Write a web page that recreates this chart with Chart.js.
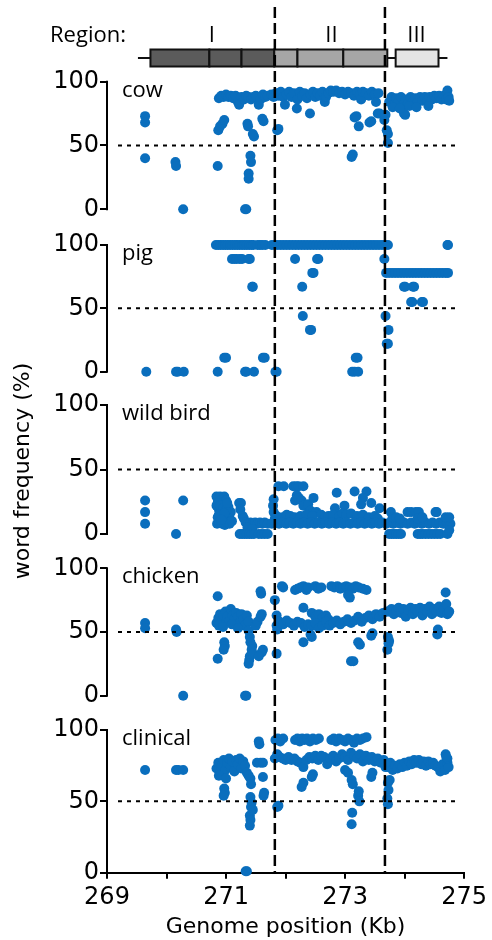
<!DOCTYPE html>
<html>
<head>
<meta charset="utf-8">
<script src="https://cdn.jsdelivr.net/npm/chart.js@4.4.1/dist/chart.umd.min.js"></script>
<style>
  html, body { margin: 0; padding: 0; background: #fff; }
  canvas { display: block; }
</style>
</head>
<body>
<canvas id="chart" width="492" height="940"></canvas>
<script>
// axes
const xMin = 269, xMax = 275;
const yTicks = [0, 50, 100];
const panelNames = ['cow', 'pig', 'wild bird', 'chicken', 'clinical'];

// region boundaries (Kb) and the region bar segments
const regionBounds = [271.82, 273.67];
const regionSegments = [[269.73, 270.72], [270.72, 271.26], [271.26, 271.81], [271.81, 272.2], [272.2, 272.97], [272.97, 273.71], [273.85, 274.57]];
const regionShade = [0, 0, 0, 1, 1, 1, 2];
const regionLabels = ['I', 'II', 'III'];
const regionLabelPos = [270.76, 272.77, 274.2];
const regionSpan = [269.52, 274.72];

// word frequency (%) by genome position (Kb)
const cow = [
  [269.64,73],[269.64,68],[269.64,40],[270.15,37],[270.16,34],[270.28,0],
  [270.86,34],[270.87,62],[270.9,65],[270.94,67],[270.97,70],
  [270.88,87],[270.92,89],[270.96,88],[271.0,90],[271.04,88],[271.08,89],[271.12,87],[271.16,89],[271.2,84],[271.22,82],
  [271.26,88],[271.3,86],[271.34,89],[271.38,88],[271.42,86],[271.46,88],[271.5,89],[271.55,82],[271.58,86],[271.62,90],[271.66,88],[271.7,89],
  [271.36,67],[271.37,65],[271.47,57],[271.45,59],
  [271.41,42],[271.42,37],[271.38,28],[271.38,24],[271.32,0],[271.34,0],
  [271.61,71],[271.63,69],[271.86,62],[271.88,63],
  [271.76,90],[271.8,88],[271.84,91],[271.88,89],[271.92,92],[271.96,88],[271.99,82],[272.02,90],[272.06,92],[272.1,88],
  [272.14,91],[272.19,79],[272.2,86],[272.24,92],[272.28,89],[272.32,91],[272.36,87],[272.41,75],[272.42,90],[272.46,92],
  [272.5,88],[272.54,91],[272.58,89],[272.62,92],[272.66,84],[272.68,88],[272.72,91],[272.76,93],[272.8,92],[272.85,93],
  [272.9,91],[272.95,92],[273.0,90],[273.05,92],[273.1,91],[273.15,89],[273.2,92],[273.25,90],[273.27,86],[273.3,92],
  [273.35,91],[273.4,89],[273.45,92],[273.5,90],[273.52,84],[273.56,91],
  [273.11,41],[273.13,43],[273.16,72],[273.19,73],[273.23,65],[273.41,68],[273.44,69],[273.55,75],[273.58,75],
  [273.66,70],[273.68,74],[273.7,62],[273.72,59],[273.72,52],
  [273.74,84],[273.78,88],[273.82,82],[273.86,87],[273.9,84],[273.94,88],[273.98,82],[273.99,75],[274.01,74],[274.02,86],
  [274.06,83],[274.1,88],[274.14,84],[274.18,87],[274.22,84],[274.26,88],[274.3,85],[274.34,88],[274.38,85],[274.42,88],
  [274.46,86],[274.5,89],[274.54,87],[274.58,89],[274.62,86],[274.66,89],[274.7,86],[274.72,93],[274.74,88],[274.75,85],
  [273.8,80],[273.92,79],[274.08,81],[274.2,80],[274.4,81]
];

const pig = [
  [269.66,0],[270.16,0],[270.19,0],[270.29,0],[270.86,0],[271.32,0],[271.34,0],[271.47,0],[271.83,0],[271.85,0],
  [273.12,0],[273.16,0],[273.22,0],
  [270.97,11],[271.0,11],[271.62,11],[271.65,11],[273.18,11],[273.21,11],
  [270.83,100],[270.87,100],[270.91,100],[270.95,100],[270.99,100],[271.03,100],[271.07,100],[271.11,100],[271.15,100],
  [271.19,100],[271.23,100],[271.27,100],[271.31,100],[271.35,100],[271.39,100],[271.43,100],[271.46,100],
  [271.53,100],[271.57,100],[271.61,100],[271.66,100],
  [271.77,100],[271.82,100],[271.87,100],[271.92,100],[271.97,100],[272.02,100],[272.07,100],[272.12,100],[272.17,100],
  [272.22,100],[272.27,100],[272.32,100],[272.37,100],[272.42,100],[272.47,100],[272.52,100],[272.57,100],[272.62,100],
  [272.67,100],[272.72,100],[272.77,100],[272.82,100],[272.87,100],[272.92,100],[272.97,100],[273.02,100],[273.07,100],
  [273.12,100],[273.17,100],[273.22,100],[273.27,100],[273.32,100],[273.37,100],[273.42,100],[273.47,100],[273.52,100],
  [273.57,100],[273.62,100],[273.67,100],[273.72,100],
  [271.1,89],[271.14,89],[271.18,89],[271.23,89],[271.27,89],[271.38,89],[271.4,89],[272.16,89],[272.53,89],[272.55,89],[273.66,89],
  [271.44,67],[271.45,67],[272.28,67],[272.45,78],[272.47,78],[272.29,44],[272.41,33],[272.43,33],
  [273.69,78],[273.74,78],[273.79,78],[273.84,78],[273.89,78],[273.94,78],[273.99,78],[274.04,78],[274.09,78],[274.14,78],
  [274.19,78],[274.24,78],[274.29,78],[274.34,78],[274.39,78],[274.44,78],[274.49,78],[274.54,78],[274.59,78],[274.64,78],
  [274.69,78],[274.73,78],
  [273.99,67],[274.01,67],[274.14,67],[274.16,67],[274.11,55],[274.13,55],[274.29,55],[274.31,55],
  [273.68,44],[273.73,33],[273.7,22],[273.72,22],[274.72,100],[274.73,100]
];

const wildBird = [
  [269.64,26],[269.64,17],[269.64,8],[270.16,0],[270.28,26],
  [270.84,29],[270.87,26],[270.9,29],[270.93,27],[270.97,29],[271.0,26],[270.84,22],[270.88,19],[270.92,17],[270.86,13],
  [270.9,12],[270.95,14],[270.99,11],[271.03,13],[271.06,12],[270.85,8],[270.89,9],[270.93,8],[270.98,7],[271.02,9],
  [271.06,8],[271.1,10],[271.08,17],[271.04,21],
  [270.86,24],[270.9,22],[270.95,20],[271.0,18],[270.88,15],[270.97,16],[271.02,24],[270.92,11],
  [271.22,24],[271.25,24],[271.24,19],[271.28,14],[271.3,12],
  [271.33,9],[271.37,8],[271.41,9],[271.45,8],[271.49,9],[271.53,8],[271.57,9],[271.61,8],[271.65,9],[271.7,8],[271.36,5],[271.44,4],
  [271.23,0],[271.27,0],[271.31,0],[271.35,0],[271.39,0],[271.43,0],[271.47,0],[271.55,0],[271.6,0],[271.65,0],[271.7,0],
  [271.8,27],[271.79,22],[271.8,17],[271.82,12],
  [271.88,37],[271.97,37],[272.13,37],[272.18,37],[272.22,37],[272.3,37],
  [272.19,30],[272.16,26],[272.22,28],[272.27,26],[272.3,22],[272.38,23],[272.47,28],[272.42,18],[272.52,17],
  [272.86,32],[272.83,20],[272.99,22],[273.16,33],[273.36,33],[273.3,28],[273.27,23],[273.44,24],[273.58,20],
  [271.85,14],[271.95,13],[272.02,15],[272.08,14],[272.15,13],[272.25,14],[272.35,15],[272.45,14],[272.6,15],[272.66,13],
  [272.72,14],[272.8,15],[272.9,14],[272.96,16],[273.02,15],[273.1,16],[273.2,14],[273.3,15],[273.4,13],[273.5,14],[273.55,12],
  [271.77,8],[271.83,9],[271.89,8],[271.95,9],[272.01,8],[272.07,9],[272.13,8],[272.19,9],[272.25,8],[272.31,9],
  [272.37,8],[272.43,9],[272.49,8],[272.55,9],[272.61,8],[272.67,9],[272.73,8],[272.79,9],[272.85,8],[272.91,9],
  [272.97,8],[273.03,9],[273.09,8],[273.15,9],[273.21,8],[273.27,9],[273.33,8],[273.39,9],[273.45,8],[273.51,9],
  [273.57,8],[273.63,9],[273.69,8],[273.75,9],[273.81,8],[273.87,9],[273.93,8],[273.99,9],[274.05,8],[274.11,9],
  [274.17,8],[274.23,9],[274.29,8],[274.35,9],[274.41,8],[274.47,9],[274.53,8],[274.59,9],[274.65,8],[274.71,9],[274.77,8],
  [273.77,17],[274.05,17],[274.11,17],[274.19,17],[274.24,17],[274.52,17],[274.54,17],
  [273.8,13],[273.86,13],[273.92,12],[274.22,12],[274.3,13],[274.69,13],[274.75,13],
  [273.74,0],[273.78,0],[273.82,0],[273.86,0],[273.9,0],[273.94,0],[274.22,0],[274.26,0],[274.3,0],[274.35,0],
  [274.4,0],[274.45,0],[274.5,0],[274.55,0],[274.6,0],[274.72,0],[274.75,3]
];

const chicken = [
  [269.64,57],[269.64,53],[270.16,52],[270.17,50],[270.28,0],
  [270.86,78],[270.86,29],[271.32,0],[271.34,0],
  [270.84,57],[270.87,61],[270.9,64],[270.93,59],[270.96,63],[270.99,66],[271.02,62],[271.05,58],[271.08,68],[271.11,63],
  [271.14,60],[271.17,65],[271.2,62],[271.23,57],[271.26,64],[271.29,60],[271.32,55],[271.35,63],[271.38,58],
  [270.88,55],[270.95,54],[271.1,56],[271.2,53],
  [270.97,42],[270.98,39],[270.96,36],
  [271.38,51],[271.4,46],[271.41,42],[271.44,39],[271.43,36],[271.4,31],[271.39,28],[271.38,25],[271.45,33],
  [271.5,55],[271.53,58],[271.58,62],[271.6,64],[271.62,36],[271.6,34],[271.55,31],
  [271.58,82],[271.59,80],[271.82,75],[271.85,63],[271.85,55],[271.86,52],[271.85,33],
  [271.94,86],[271.96,85],[272.16,83],[272.2,84],[272.25,85],[272.3,86],[272.35,83],[272.38,85],[272.5,86],[272.55,84],
  [272.6,85],[272.77,86],[272.82,85],[272.87,86],[272.92,84],[272.97,85],[273.02,86],[273.08,85],[273.13,84],[273.18,86],
  [273.23,85],[273.3,84],[273.36,83],[273.08,77],[273.05,79],
  [272.3,69],[272.44,65],[272.5,62],[272.56,64],[272.62,61],[272.68,63],[272.72,60],
  [271.9,58],[271.96,56],[272.02,59],[272.08,57],[272.14,55],[272.2,58],[272.26,57],[272.32,54],[272.38,56],[272.44,55],
  [272.5,57],[272.56,53],[272.62,55],[272.68,58],[272.74,55],[272.8,57],[272.86,59],[272.92,56],[272.98,58],[273.04,60],
  [273.1,57],[273.16,59],[273.22,62],[273.28,58],[273.34,61],[273.4,63],[273.46,60],[273.52,64],[273.58,62],[273.64,65],[273.7,66],
  [272.44,46],[272.42,48],[272.3,42],[273.22,42],[273.25,40],[273.1,27],[273.14,27],[273.44,47],[273.46,49],
  [273.74,66],[273.78,68],[273.82,64],[273.86,67],[273.9,69],[273.94,65],[273.98,68],[274.02,62],[274.06,67],[274.1,69],
  [274.14,64],[274.18,68],[274.22,66],[274.26,69],[274.3,63],[274.34,68],[274.38,66],[274.42,70],[274.46,64],[274.5,68],
  [274.54,66],[274.58,70],[274.62,65],[274.66,68],[274.7,72],[274.72,64],[274.75,66],
  [274.69,81],[274.55,48],[274.56,52],[273.72,46],[273.73,41],[273.71,36],[273.74,43]
];

const clinical = [
  [269.64,72],[270.16,72],[270.2,72],[270.28,72],
  [270.84,73],[270.87,77],[270.9,70],[270.93,75],[270.96,79],[270.99,72],[271.02,77],[271.05,80],[271.08,74],[271.11,78],
  [271.14,71],[271.17,79],[271.2,76],[271.23,80],[271.26,73],[271.29,78],[271.32,75],[271.35,70],[271.38,68],[270.88,68],[271.0,66],
  [270.97,59],[270.98,56],[270.96,54],
  [271.41,66],[271.42,62],[271.41,53],[271.43,49],[271.42,46],[271.4,40],[271.41,37],[271.4,33],[271.45,44],
  [271.33,1],[271.35,1],
  [271.55,92],[271.56,90],[271.52,77],[271.58,77],[271.62,77],[271.62,67],[271.63,54],[271.64,56],
  [271.86,46],[271.88,47],
  [271.83,93],[271.87,94],[271.91,92],[271.96,94],[272.16,93],[272.2,94],[272.24,92],[272.28,94],[272.32,93],[272.36,94],
  [272.41,92],[272.46,94],[272.51,93],[272.56,94],[272.77,93],[272.81,94],[272.85,92],[272.9,94],[272.95,93],[273.0,92],
  [273.05,94],[273.1,93],[273.15,91],[273.2,94],[273.25,93],[273.3,94],[273.36,95],
  [271.82,80],[271.86,83],[271.9,81],[271.95,80],[272.0,79],[272.05,81],[272.1,79],[272.15,80],[272.2,78],[272.25,77],
  [272.3,74],[272.35,79],[272.4,81],[272.45,80],[272.5,82],[272.55,79],[272.6,82],[272.65,81],[272.7,76],[272.75,80],
  [272.8,82],[272.85,78],[272.9,80],[272.95,83],[273.0,81],[273.05,79],[273.1,84],[273.15,82],[273.2,80],[273.25,83],
  [273.3,78],[273.35,82],[273.4,79],[273.45,81],[273.5,78],[273.55,80],[273.6,77],[273.65,79],[273.68,74],
  [272.27,60],[272.3,63],[272.44,67],[272.46,69],[273.0,72],[273.05,70],[273.11,65],[273.13,62],[273.22,54],[273.24,50],
  [273.23,57],[273.12,42],[273.11,34],[273.44,67],[273.46,70],
  [273.72,74],[273.76,77],[273.8,72],[273.84,75],[273.88,73],[273.92,76],[273.96,74],[274.0,77],[274.04,75],[274.08,78],
  [274.12,76],[274.16,79],[274.2,77],[274.24,79],[274.28,76],[274.32,78],[274.36,75],[274.4,78],[274.44,76],[274.48,77],
  [274.52,75],[274.56,74],[274.6,71],[274.64,76],[274.68,72],[274.72,77],[274.74,74],[274.72,80],
  [274.69,83],[274.7,81],[273.72,63],[273.73,58],[273.71,52],[273.72,48],[273.75,65]
];

const series = [cow, pig, wildBird, chicken, clinical];

// panel slot layout: axis range and slot height (px) in the stack
const panelLayout = [
  { min: -20.1, max: 107.8, h: 163.3 },
  { min: -18.4, max: 107.9, h: 160 },
  { min: -18.8, max: 107.75, h: 163.3 },
  { min: -19.1, max: 107.85, h: 161.7 },
  { min: 0, max: 107.0, h: 152.7 }
];

const dotColor = '#0a6ebd';
const tickFont = { family: 'DejaVu Sans', size: 24 };
const labelFont = '22px "Open Sans"';

const scales = {
  x: {
    type: 'linear',
    min: xMin,
    max: xMax,
    afterFit: s => { s.height = 67.3; },
    border: { display: true, color: '#000', width: 2 },
    grid: { drawOnChartArea: false, drawTicks: true, tickLength: 6, color: '#000', lineWidth: 2 },
    ticks: {
      stepSize: 1, autoSkip: false, maxRotation: 0, color: '#000', font: tickFont, padding: 5,
      callback: v => (v % 2 === 1 ? String(v) : '')
    },
    title: { display: true, text: 'Genome position (Kb)', color: '#000', font: { family: 'DejaVu Sans', size: 22 }, padding: 0 }
  }
};

series.forEach((d, i) => {
  scales['y' + i] = {
    type: 'linear',
    position: 'left',
    stack: 'panels',
    stackWeight: panelLayout[i].h,
    weight: 10 - i,
    bounds: 'data',
    min: panelLayout[i].min,
    max: panelLayout[i].max,
    afterBuildTicks: s => { s.ticks = yTicks.map(v => ({ value: v })); },
    afterFit: s => { s.width = 107; },
    border: { display: false },
    grid: { drawOnChartArea: false, drawTicks: true, tickLength: 7, color: '#000', lineWidth: 2 },
    ticks: { color: '#000', font: tickFont, padding: 1 }
  };
});

const decor = {
  id: 'decor',
  afterDatasetsDraw(chart) {
    const { ctx, chartArea: area, scales: sc } = chart;
    const x = sc.x;
    ctx.save();
    ctx.strokeStyle = '#000';
    ctx.fillStyle = '#000';

    panelNames.forEach((name, i) => {
      const y = sc['y' + i];
      const y0 = y.getPixelForValue(0), y50 = y.getPixelForValue(50), y100 = y.getPixelForValue(100);
      // y axis line 0..100
      ctx.setLineDash([]);
      ctx.lineWidth = 2;
      ctx.beginPath();
      ctx.moveTo(area.left, y0 + 1);
      ctx.lineTo(area.left, y100 - 1);
      ctx.stroke();
      // dotted 50% line
      ctx.setLineDash([4, 5]);
      ctx.beginPath();
      ctx.moveTo(area.left + 11, y50);
      ctx.lineTo(area.right - 5, y50);
      ctx.stroke();
      // panel label
      ctx.setLineDash([]);
      ctx.font = labelFont;
      ctx.textAlign = 'left';
      ctx.textBaseline = 'alphabetic';
      ctx.fillText(name, area.left + 15, y100 + 15);
    });

    // region bar
    const barTop = 49.5, barBot = 66.5, barMid = 58;
    ctx.setLineDash([]);
    ctx.lineWidth = 2;
    ctx.strokeStyle = '#111';
    ctx.beginPath();
    ctx.moveTo(x.getPixelForValue(regionSpan[0]), barMid);
    ctx.lineTo(x.getPixelForValue(regionSpan[1]), barMid);
    ctx.stroke();
    const shades = ['#5b5b5b', '#a6a6a6', '#e4e4e4'];
    regionSegments.forEach((seg, i) => {
      const a = x.getPixelForValue(seg[0]), b = x.getPixelForValue(seg[1]);
      ctx.fillStyle = shades[regionShade[i]];
      ctx.fillRect(a, barTop, b - a, barBot - barTop);
      ctx.strokeRect(a, barTop, b - a, barBot - barTop);
    });
    ctx.fillStyle = '#000';
    ctx.font = labelFont;
    ctx.textBaseline = 'alphabetic';
    ctx.textAlign = 'left';
    ctx.fillText('Region:', 50, 41.7);
    ctx.textAlign = 'center';
    regionLabels.forEach((t, i) => ctx.fillText(t, x.getPixelForValue(regionLabelPos[i]), 41.7));

    // dashed region boundaries
    ctx.strokeStyle = '#000';
    ctx.lineWidth = 2.5;
    ctx.setLineDash([11, 5]);
    regionBounds.forEach(v => {
      const px = x.getPixelForValue(v);
      ctx.beginPath();
      ctx.moveTo(px, 7);
      ctx.lineTo(px, area.bottom);
      ctx.stroke();
    });

    // y axis title
    ctx.setLineDash([]);
    ctx.translate(23, 471);
    ctx.rotate(-Math.PI / 2);
    ctx.font = '22px "DejaVu Sans"';
    ctx.textAlign = 'center';
    ctx.textBaseline = 'middle';
    ctx.fillText('word frequency (%)', 0, 0);
    ctx.restore();
  }
};

new Chart(document.getElementById('chart'), {
  type: 'scatter',
  data: {
    datasets: series.map((d, i) => ({
      label: panelNames[i],
      data: d.map(p => ({ x: p[0], y: p[1] })),
      yAxisID: 'y' + i,
      backgroundColor: dotColor,
      borderWidth: 0,
      pointRadius: 5,
      clip: false
    }))
  },
  options: {
    responsive: false,
    animation: false,
    layout: { padding: { top: 71.7, right: 25, bottom: 0, left: 0 } },
    plugins: { legend: { display: false }, tooltip: { enabled: false } },
    scales: scales
  },
  plugins: [decor]
});
</script>
</body>
</html>
